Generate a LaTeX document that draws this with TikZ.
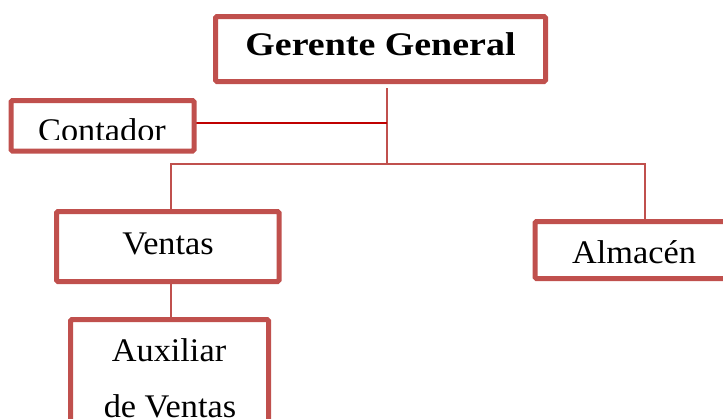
\documentclass[tikz,border=0pt]{standalone}
\usepackage{fontspec}
\setmainfont{Liberation Serif}[FakeStretch=1.04, BoldFeatures={FakeStretch=1.15}]
\usetikzlibrary{backgrounds}
\definecolor{boxred}{HTML}{C0504D}
\definecolor{linkred}{HTML}{C00000}

\begin{document}
\begin{tikzpicture}[x=1pt, y=-1pt,
  orgbox/.style={draw=boxred, line width=5pt, rounded corners=1.5pt,
    fill=white, inner sep=0pt, outer sep=0pt},
  lbl/.style={inner sep=0pt, anchor=base, text=black,
    font=\fontsize{33}{40}\selectfont},
  link/.style={draw=boxred, line width=2pt},
  sidelink/.style={draw=linkred, line width=2pt}]
\useasboundingbox (0,0) rectangle (723,418);

% boxes
\node[orgbox, minimum width=330pt, minimum height=65pt] (gg) at (380.5,49) {};
\node[orgbox, minimum width=183pt, minimum height=50.5pt] (contador) at (102.5,125.75) {};
\node[orgbox, minimum width=222.5pt, minimum height=70pt] (ventas) at (167.75,246.5) {};
\node[orgbox, minimum width=225pt, minimum height=57pt] (almacen) at (647.5,250) {};
\node[orgbox, minimum width=198pt, minimum height=120.5pt] (auxiliar) at (169.5,379.75) {};

% labels
\node[lbl] (ggtext) at (380.5,55) {\bfseries Gerente General};
\begin{scope}
  \clip (12,102) rectangle (193,139.5);
  \node[lbl] (contadortext) at (102,141.5) {Contador};
\end{scope}
\node[lbl] (ventastext) at (168,254) {Ventas};
\node[lbl] (almacentext) at (634,263.5) {Almacén};
\node[lbl] (auxtext1) at (169,361.7) {Auxiliar};
\node[lbl] (auxtext2) at (170,417) {de Ventas};

% connectors
\coordinate (hubtop) at (387,88);
\coordinate (hub) at (387,164);
\coordinate (busL) at (171,164);
\coordinate (busR) at (645,164);
\coordinate (contadorport) at (194,123.3);
\begin{scope}[on background layer]
  \draw[link] (hubtop) -- (hub);
  \draw[link] (ventas.north -| busL) |- (busR) -- (almacen.north -| busR);
  \draw[link] (ventas.south -| busL) -- (auxiliar.north -| busL);
  \draw[sidelink] (contadorport) -- (contadorport -| hub);
\end{scope}
\end{tikzpicture}
\end{document}
